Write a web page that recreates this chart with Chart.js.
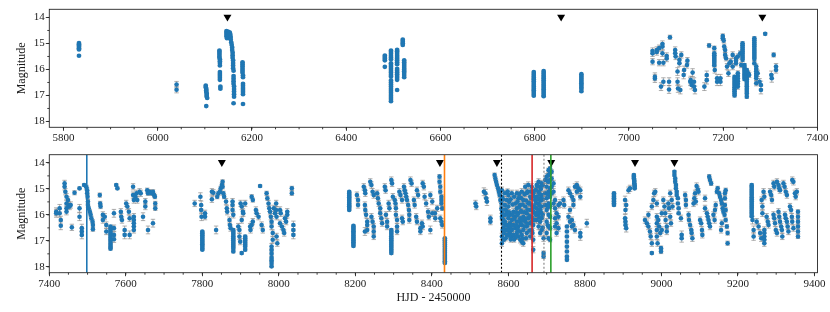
<!DOCTYPE html>
<html>
<head>
<meta charset="utf-8">
<script src="https://cdn.jsdelivr.net/npm/chart.js@4/dist/chart.umd.min.js"></script>
<style>
  html, body { margin: 0; padding: 0; background: #fff; }
  #wrap { position: relative; width: 830px; height: 312px; }
  #wrap canvas { position: absolute; left: 0; top: 0; }
</style>
</head>
<body>
<div id="wrap">
  <canvas id="topChart" width="830" height="312"></canvas>
  <canvas id="bottomChart" width="830" height="312"></canvas>
</div>
<script>
// ---- Light curve: [HJD - 2450000, magnitude, error] ----

const seasonTop1 = [
  [5833,14.98,.03],[5833,15.03,.03],[5833,15.08,.03],[5833,15.13,.03],[5833,15.18,.03],[5833,15.23,.03],[5833,15.47,.03],
  [6040,16.58,.12],[6040,16.78,.12],
  [6102,16.62,.03],[6102,16.68,.03],[6103,16.74,.03],[6103,16.8,.03],[6103,16.86,.03],[6104,16.92,.03],[6104,16.98,.03],[6104,17.04,.03],[6105,17.1,.03],[6103,17.41,.03],
  [6131,15.27,.03],[6131,15.33,.03],[6131,15.4,.03],[6131,15.47,.03],[6131,15.54,.03],[6132,15.61,.03],[6132,15.68,.03],[6132,15.75,.03],[6132,15.85,.03],
  [6132,16.1,.03],[6132,16.17,.03],[6132,16.24,.03],[6132,16.32,.03],[6132,16.4,.03],[6133,16.66,.03],[6133,16.74,.03],
  [6146,14.52,.03],[6146,14.58,.03],[6146,14.65,.03],[6146,14.72,.03],[6147,14.8,.03],[6150,14.55,.03],[6150,14.62,.03],[6151,14.7,.03],[6152,14.78,.03],
  [6153,14.58,.03],[6154,14.65,.03],[6155,14.75,.03],[6155,14.85,.03],[6156,14.95,.03],[6157,15.05,.03],[6158,15.15,.03],[6158,15.25,.03],[6159,15.35,.03],
  [6159,15.45,.03],[6159,15.55,.03],[6160,15.65,.03],[6160,15.75,.03],[6160,15.85,.03],[6160,15.95,.03],[6161,16.05,.03],[6161,16.25,.03],[6161,16.35,.03],
  [6161,16.45,.03],[6161,16.55,.03],[6162,16.65,.03],[6162,16.75,.03],[6162,16.85,.03],[6162,16.95,.03],[6162,17.05,.03],[6161,17.3,.03],
  [6180,15.72,.03],[6180,15.8,.03],[6180,15.88,.03],[6180,15.96,.03],[6180,16.04,.03],[6180,16.12,.03],[6181,16.22,.03],[6181,16.3,.03],
  [6181,16.55,.03],[6181,16.63,.03],[6181,16.71,.03],[6181,16.79,.03],[6181,16.87,.03],[6181,16.95,.03],[6181,17.33,.03]
];

const seasonTop2 = [
  [6482,15.46,.03],[6482,15.52,.03],[6482,15.58,.03],[6482,15.65,.03],[6482,15.9,.03],
  [6495,15.27,.03],[6495,15.33,.03],[6495,15.4,.03],[6495,15.47,.03],[6495,15.54,.03],[6495,15.61,.03],[6495,15.76,.03],[6495,15.83,.03],
  [6495,15.9,.03],[6495,15.97,.03],[6495,16.05,.03],[6495,16.12,.03],[6495,16.2,.03],[6495,16.27,.03],[6495,16.42,.03],[6495,16.5,.03],
  [6495,16.58,.03],[6495,16.66,.03],[6495,16.74,.03],[6495,16.82,.03],[6495,16.9,.03],[6495,16.98,.03],[6495,17.06,.03],[6495,17.14,.03],[6495,17.22,.03],
  [6508,15.24,.03],[6508,15.3,.03],[6508,15.37,.03],[6508,15.44,.03],[6508,15.51,.03],[6508,15.58,.03],[6508,15.65,.03],[6508,15.72,.03],[6508,15.8,.03],
  [6508,15.97,.03],[6508,16.04,.03],[6508,16.11,.03],[6508,16.18,.03],[6508,16.25,.03],[6508,16.32,.03],[6508,16.4,.03],[6508,16.79,.03],
  [6520,14.85,.03],[6520,14.92,.03],[6520,14.99,.03],[6520,15.06,.03],
  [6523,15.65,.03],[6523,15.72,.03],[6523,15.79,.03],[6523,15.86,.03],[6523,15.93,.03],[6523,16.0,.03],[6523,16.07,.03],[6523,16.14,.03],[6523,16.21,.03],[6523,16.3,.03]
];

const seasonTop3 = [
  [6798,16.1,.03],[6798,16.17,.03],[6798,16.24,.03],[6798,16.31,.03],[6798,16.38,.03],[6798,16.45,.03],[6798,16.52,.03],
  [6798,16.59,.03],[6798,16.66,.03],[6798,16.73,.03],[6798,16.8,.03],[6798,16.87,.03],[6798,16.94,.03],[6798,17.01,.03],
  [6819,16.06,.03],[6819,16.13,.03],[6819,16.2,.03],[6819,16.27,.03],[6819,16.34,.03],[6819,16.41,.03],[6819,16.48,.03],
  [6819,16.55,.03],[6819,16.62,.03],[6819,16.69,.03],[6819,16.76,.03],[6819,16.83,.03],[6819,16.9,.03],[6819,16.97,.03],[6819,17.03,.03],
  [6899,16.18,.03],[6899,16.25,.03],[6899,16.32,.03],[6899,16.39,.03],[6899,16.46,.03],[6899,16.53,.03],[6899,16.6,.03],[6899,16.67,.03],[6899,16.74,.03],[6899,16.84,.03]
];

const seasonTop4 = [
  [7050,15.29,.12],[7050,15.38,.12],[7050,15.7,.12],[7055,16.28,.15],[7055,16.35,.15],[7059,15.25,.12],[7059,15.33,.12],
  [7064,15.18,.12],[7064,15.74,.12],[7068,16.66,.15],[7071,15.02,.12],[7071,15.12,.12],[7071,15.38,.12],[7073,15.74,.12],[7073,16.47,.15],
  [7080,15.48,.12],[7080,15.58,.12],[7085,16.47,.15],[7085,16.77,.15],[7087,14.76,.08],
  [7098,15.25,.12],[7098,15.38,.12],[7099,15.5,.12],[7103,16.08,.15],[7103,16.47,.15],[7104,16.73,.15],[7107,15.63,.12],[7107,15.76,.12],
  [7111,15.44,.12],[7109,16.79,.15],[7116,16.21,.15],[7117,16.02,.15],[7123,15.83,.12],[7124,15.66,.12],
  [7130,16.47,.15],[7131,16.41,.15],[7133,16.6,.15],[7135,16.12,.15],[7138,16.47,.15],[7138,16.66,.15],[7140,16.79,.15],
  [7160,16.66,.15],[7165,16.21,.15],[7165,16.41,.15],[7170,15.08,.08],
  [7181,15.18,.08],[7181,15.38,.06],[7181,15.45,.06],[7181,15.52,.06],[7181,15.6,.06],[7181,15.67,.06],[7181,15.75,.06],[7181,15.84,.06],
  [7182,16.02,.12],[7187,16.34,.15],[7187,16.47,.15],[7194,16.34,.15],[7194,16.47,.15],
  [7199,14.71,.08],[7199,14.8,.08],[7201,14.89,.08],[7202,15.12,.1],[7204,15.25,.1],[7204,15.44,.1],[7206,15.57,.1],[7208,15.89,.12],
  [7211,16.15,.12],[7213,15.76,.12],[7216,15.7,.12],[7220,15.44,.12],[7220,15.89,.12],
  [7224,16.28,.06],[7224,16.36,.06],[7224,16.44,.06],[7224,16.52,.06],[7224,16.6,.06],[7224,16.68,.06],[7224,16.76,.06],[7224,16.84,.06],[7224,16.92,.06],[7224,17.0,.06],
  [7227,15.57,.1],[7227,15.66,.1],[7227,15.76,.1],[7231,15.5,.1],
  [7231,16.15,.1],[7231,16.25,.1],[7231,16.35,.1],[7231,16.45,.1],[7231,16.55,.1],[7231,16.66,.1],
  [7236,15.38,.1],[7238,15.83,.1],
  [7241,14.99,.06],[7241,15.07,.06],[7241,15.15,.06],[7241,15.23,.06],[7241,15.31,.06],[7241,15.39,.06],[7241,15.47,.06],[7241,15.55,.06],[7241,15.63,.06],
  [7245,15.83,.06],[7245,15.92,.06],[7245,16.01,.06],[7245,16.1,.06],[7245,16.19,.06],[7245,16.28,.06],[7245,16.37,.06],
  [7250,16.02,.06],[7250,16.11,.06],[7250,16.2,.06],[7250,16.29,.06],[7250,16.38,.06],[7250,16.47,.06],[7250,16.56,.06],[7250,16.65,.06],
  [7250,16.74,.06],[7250,16.83,.06],[7250,16.92,.06],[7250,17.05,.06],[7253,16.15,.1],[7255,16.21,.1],
  [7266,14.8,.06],[7266,14.88,.06],[7266,14.96,.06],[7266,15.04,.06],[7266,15.12,.06],[7266,15.2,.06],[7266,15.28,.06],[7266,15.36,.06],
  [7266,15.44,.06],[7266,15.52,.06],[7266,15.6,.06],[7266,15.76,.06],
  [7270,15.89,.1],[7270,15.98,.1],[7270,16.07,.1],[7270,16.16,.1],[7270,16.25,.1],[7270,16.34,.1],[7270,16.53,.1],
  [7273,16.15,.12],[7277,16.47,.12],[7280,16.79,.15],[7280,16.6,.15],[7289,14.63,.05],
  [7302,16.21,.15],[7303,16.34,.15],[7307,15.44,.08],[7312,15.89,.12],[7312,16.02,.12]
];

const seasonBot1 = [
  [7418,15.88,.15],[7418,15.94,.15],[7427,15.75,.15],[7427,15.94,.15],[7430,16.2,.15],[7430,16.42,.15],
  [7440,14.79,.12],[7440,14.92,.12],[7442,15.11,.12],[7445,15.3,.12],[7445,15.56,.12],[7445,15.75,.12],[7445,15.88,.12],
  [7449,15.43,.12],[7451,15.62,.12],[7453,15.68,.12],[7456,15.62,.12],[7459,16.48,.12],[7466,15.15,.08],
  [7479,14.98,.05],[7479,15.75,.15],[7479,16.07,.15],[7485,16.51,.15],[7485,16.64,.15],[7485,16.77,.15],[7491,14.85,.05],
  [7497,14.94,.08],[7499,15.05,.08],[7499,15.17,.08],[7500,15.3,.08],[7501,15.49,.08],[7501,15.62,.08],[7503,15.75,.08],[7506,15.88,.08],
  [7508,16.0,.08],[7510,16.13,.08],[7513,16.26,.08],[7514,16.39,.08],[7514,16.55,.08],
  [7532,15.24,.08],[7533,15.56,.08],[7534,15.68,.08],[7540,16.0,.12],[7540,16.2,.12],[7545,16.07,.12],[7549,16.39,.12],[7549,16.64,.12],
  [7560,16.45,.05],[7560,16.52,.05],[7560,16.6,.05],[7560,16.68,.05],[7560,16.76,.05],[7560,16.84,.05],[7560,16.92,.05],[7560,17.0,.05],
  [7560,17.08,.05],[7560,17.16,.05],[7560,17.24,.05],[7560,17.3,.05],
  [7569,15.94,.15],[7569,16.51,.12],[7569,16.77,.12],[7569,16.94,.12],[7575,14.85,.05],[7578,14.98,.05],
  [7587,15.88,.12],[7588,16.07,.12],[7590,16.2,.12],[7597,16.58,.15],[7597,16.77,.15],[7601,15.56,.12],[7604,15.68,.12],
  [7608,15.88,.12],[7610,16.13,.12],[7610,16.77,.15],
  [7619,14.92,.12],[7619,15.24,.12],[7621,15.43,.12],[7621,16.07,.12],[7621,16.2,.12],[7621,16.32,.12],[7621,16.45,.12],[7621,16.58,.12],
  [7625,15.3,.12],[7628,15.17,.12],[7630,15.43,.12],[7636,15.11,.12],[7639,15.17,.12],[7645,16.07,.15],[7651,15.49,.12],[7651,15.68,.12],
  [7656,15.05,.08],[7658,15.17,.08],[7658,16.58,.15],[7662,15.11,.08],[7667,15.17,.08],[7671,15.11,.08],[7674,15.24,.08],[7676,15.3,.08],
  [7671,16.32,.15],[7677,15.56,.08],[7677,15.75,.08]
];

const seasonBot2 = [
  [7780,15.56,.12],[7795,15.3,.15],[7797,15.62,.15],[7797,15.81,.15],[7798,16.07,.15],
  [7800,16.64,.03],[7800,16.71,.03],[7800,16.78,.03],[7800,16.85,.03],[7800,16.92,.03],[7800,16.99,.03],[7800,17.06,.03],[7800,17.13,.03],
  [7800,17.2,.03],[7800,17.27,.03],[7800,17.34,.03],
  [7807,15.94,.12],[7807,16.07,.12],[7825,15.11,.12],[7825,15.4,.12],[7829,15.15,.12],[7836,16.58,.15],
  [7839,15.3,.08],[7842,15.17,.08],[7846,15.11,.08],[7848,14.98,.08],[7851,14.85,.08],[7853,14.73,.08],[7853,14.92,.08],[7855,15.17,.08],[7857,15.3,.08],
  [7862,15.49,.12],[7864,15.75,.12],[7865,15.88,.12],[7871,16.2,.12],[7872,16.39,.12],[7874,16.51,.12],
  [7879,15.49,.12],[7879,15.62,.12],[7879,15.81,.12],[7881,16.0,.12],
  [7881,16.58,.05],[7881,16.66,.05],[7881,16.74,.05],[7881,16.82,.05],[7881,16.9,.05],[7881,16.98,.05],[7881,17.06,.05],[7881,17.14,.05],
  [7881,17.22,.05],[7881,17.3,.05],[7881,17.41,.05],
  [7894,16.45,.12],[7897,16.58,.12],[7897,16.83,.12],[7899,17.03,.12],[7900,15.56,.12],[7903,15.68,.12],[7906,15.88,.12],[7903,16.2,.12],
  [7912,16.83,.05],[7912,16.9,.05],[7912,16.98,.05],[7912,17.06,.05],[7912,17.14,.05],[7912,17.22,.05],[7912,17.34,.05],[7903,17.47,.05],
  [7912,15.56,.12],[7907,15.94,.12],[7925,16.45,.12],[7926,16.58,.12],[7929,16.39,.12],[7932,16.26,.12],[7929,15.3,.08],[7932,15.43,.08],
  [7940,15.81,.12],[7942,15.94,.12],[7947,16.07,.12],[7951,14.89,.05],[7955,16.39,.12],[7958,16.58,.12],[7968,15.17,.08],[7970,15.36,.08],
  [7973,15.56,.12],[7975,15.75,.12],[7977,15.88,.12],[7979,16.07,.12],[7981,16.26,.12],[7981,16.45,.12],[7984,16.7,.12],[7984,16.96,.12],
  [7981,17.22,.12],[7981,17.35,.05],[7981,17.5,.05],[7981,17.65,.05],[7981,17.75,.05],[7981,17.85,.05],[7981,17.98,.05],
  [7987,15.75,.12],[7990,15.94,.12],[7993,15.56,.12],[7993,15.81,.12],[7994,16.07,.12],[7994,16.83,.12],[7996,17.09,.12],
  [8003,16.32,.12],[8008,16.45,.12],[8012,16.58,.12],[8014,16.7,.12],[8003,15.81,.12],[8005,15.94,.12],
  [8016,16.13,.12],[8019,16.26,.12],[8022,15.88,.12],[8022,16.0,.12],[8034,14.98,.08],[8034,15.17,.08],
  [8038,16.39,.15],[8038,16.58,.15],[8038,16.77,.15]
];

const seasonBot3 = [
  [8184,15.11,.03],[8184,15.18,.03],[8184,15.25,.03],[8184,15.32,.03],[8184,15.39,.03],[8184,15.46,.03],[8184,15.53,.03],[8184,15.6,.03],
  [8184,15.67,.03],[8184,15.74,.03],[8184,15.81,.03],
  [8195,16.42,.03],[8195,16.49,.03],[8195,16.56,.03],[8195,16.63,.03],[8195,16.7,.03],[8195,16.77,.03],[8195,16.84,.03],[8195,16.91,.03],
  [8195,16.98,.03],[8195,17.05,.03],[8195,17.12,.03],[8195,17.2,.03],
  [8204,15.24,.12],[8207,15.43,.12],[8207,15.62,.12],[8222,14.92,.12],[8225,15.05,.12],[8226,15.17,.12],
  [8225,15.62,.12],[8226,15.81,.12],[8228,16.0,.12],[8231,16.26,.12],[8231,16.39,.12],[8231,16.58,.12],[8225,16.64,.15],
  [8239,14.73,.12],[8242,14.85,.12],[8245,15.11,.12],[8248,15.24,.12],
  [8242,16.07,.12],[8245,16.26,.12],[8248,16.45,.12],[8248,16.64,.12],[8248,16.83,.12],
  [8257,15.17,.12],[8259,15.36,.12],[8261,15.56,.12],[8265,15.75,.12],[8265,15.94,.12],[8268,16.13,.12],[8270,16.32,.12],
  [8277,14.92,.12],[8279,15.05,.12],[8280,16.0,.12],[8283,16.26,.12],[8283,16.45,.12],[8287,15.56,.12],[8289,15.75,.12],
  [8294,14.66,.12],[8296,14.79,.12],[8298,15.3,.12],[8303,15.43,.12],[8305,15.56,.12],[8306,15.75,.12],[8306,16.0,.12],
  [8309,16.2,.12],[8309,16.45,.12],[8309,16.64,.12],
  [8294,16.58,.05],[8294,16.66,.05],[8294,16.74,.05],[8294,16.82,.05],[8294,16.9,.05],[8294,16.98,.05],[8294,17.06,.05],[8294,17.14,.05],
  [8294,17.22,.05],[8294,17.3,.05],[8294,17.38,.05],[8294,17.47,.05],
  [8315,15.11,.12],[8318,15.24,.12],[8322,15.43,.12],[8322,16.13,.12],[8324,16.26,.12],
  [8327,14.92,.12],[8329,15.05,.12],[8331,15.17,.12],[8333,15.3,.12],[8335,15.43,.12],[8338,15.62,.12],[8340,15.81,.12],[8341,16.0,.12],[8341,16.2,.12],
  [8344,14.66,.12],[8347,14.79,.12],[8353,15.43,.12],[8355,15.62,.12],[8359,16.07,.12],[8361,16.26,.12],[8361,15.05,.12],[8364,15.24,.12],
  [8370,16.51,.12],[8370,16.64,.12],[8374,16.32,.12],[8376,16.45,.12],[8376,14.79,.12],[8379,14.92,.12],
  [8381,15.3,.12],[8385,15.56,.12],[8390,15.88,.12],[8392,16.07,.12],[8396,15.24,.12],[8396,16.58,.15],
  [8401,15.49,.12],[8401,15.94,.12],[8408,15.94,.12],[8409,16.13,.12],[8414,15.75,.12],
  [8420,14.53,.08],[8420,14.73,.08],[8422,14.92,.08],[8422,15.11,.08],[8425,15.3,.08],[8425,15.43,.08],[8425,15.56,.08],[8427,15.75,.08],
  [8422,16.13,.12],[8425,16.26,.12],[8427,16.39,.12],
  [8434,16.9,.03],[8434,16.98,.03],[8434,17.06,.03],[8434,17.14,.03],[8434,17.22,.03],[8434,17.3,.03],[8434,17.38,.03],[8434,17.46,.03],
  [8434,17.54,.03],[8434,17.62,.03],[8434,17.7,.03],[8434,17.78,.03],[8434,17.85,.03]
];

const seasonBot4 = [
  [8514,15.56,.12],[8516,15.68,.12],[8536,15.11,.15],[8540,15.17,.15],[8542,15.36,.15],[8544,15.49,.15],[8553,16.13,.12],[8553,16.26,.12],
  [8564,14.47,.08],[8566,14.6,.08],[8568,14.73,.08],[8570,14.85,.08],[8573,14.98,.08],[8575,15.11,.08],[8577,15.24,.08],[8579,15.43,.08],
  [8582,15.56,.08],[8582,15.75,.08],[8584,15.94,.08],[8584,16.13,.08],[8585,16.32,.08],[8585,16.58,.08],[8588,16.7,.08],[8588,16.96,.08],
  [8583,15.05,.12],[8583,15.3,.12],[8583,15.81,.12],[8583,16.07,.12],[8583,16.83,.12],[8583,17.09,.12],
  [8591,15.17,.12],[8591,15.62,.12],[8591,16.0,.12],[8591,16.26,.12],[8591,16.58,.12],
  [8596,15.43,.12],[8596,15.88,.12],[8596,16.39,.12],[8596,16.77,.12],
  [8600,15.24,.12],[8600,15.68,.12],[8600,16.13,.12],[8600,16.51,.12],
  [8604,16.0,.12],[8604,16.32,.12],[8604,16.7,.12],
  [8609,15.17,.12],[8609,16.2,.12],[8609,16.58,.12],[8609,16.83,.12],
  [8613,15.88,.12],[8613,16.39,.12],[8613,16.77,.12],
  [8618,15.56,.12],[8618,16.07,.12],[8618,16.51,.12],
  [8622,15.17,.12],[8622,15.75,.12],[8622,16.26,.12],[8622,16.7,.12],
  [8626,15.36,.12],[8626,15.94,.12],[8626,16.45,.12],[8626,16.83,.12],
  [8631,15.62,.12],[8631,16.13,.12],[8631,16.64,.12],[8631,16.96,.12],
  [8635,15.11,.12],[8635,15.88,.12],[8635,16.39,.12],[8635,16.77,.12],[8635,17.03,.12],
  [8639,15.43,.12],[8639,16.07,.12],[8639,16.58,.12],[8639,17.09,.12],
  [8644,14.92,.12],[8644,15.68,.12],[8644,16.26,.12],
  [8648,15.17,.12],[8648,15.94,.12],[8648,16.45,.12],[8648,16.7,.12],
  [8652,14.85,.12],[8652,15.56,.12],[8652,16.13,.12],
  [8657,15.3,.12],[8657,15.81,.12],[8657,16.32,.12],[8657,16.83,.12],
  [8661,14.92,.12],[8661,15.62,.12],[8661,16.07,.12],[8661,16.58,.12],
  [8665,15.17,.12],[8665,15.88,.12],[8665,16.39,.12],[8665,16.96,.12],[8665,17.34,.12],
  [8670,15.05,.12],[8670,15.43,.12],[8670,15.94,.12],
  [8674,14.85,.12],[8674,15.3,.12],[8674,15.75,.12],[8674,16.2,.12],
  [8679,14.73,.12],[8679,15.11,.12],[8679,15.56,.12],[8679,16.0,.12],[8679,16.45,.12],
  [8683,14.92,.12],[8683,15.36,.12],[8683,15.81,.12],[8683,16.26,.12],[8683,16.7,.12],
  [8687,14.79,.12],[8687,15.24,.12],[8687,15.68,.12],[8687,16.13,.12],[8687,16.58,.12],
  [8692,16.9,.12],[8692,17.47,.08],[8692,17.6,.08],
  [8696,14.66,.12],[8696,15.17,.12],[8696,15.62,.12],
  [8700,14.53,.12],[8700,14.92,.12],[8700,15.36,.12],[8700,15.81,.12],[8700,16.26,.12],[8700,16.7,.12],
  [8705,14.28,.08],[8705,14.47,.08],[8705,14.73,.08],[8705,15.11,.08],[8705,15.56,.08],[8705,16.0,.08],[8705,16.45,.08],[8705,16.9,.08],
  [8709,14.22,.08],[8709,14.41,.08],[8709,14.66,.08],[8709,14.98,.08],[8709,15.3,.08],[8709,15.68,.08],[8709,16.07,.08],[8709,16.51,.08],[8709,16.96,.08],
  [8713,14.34,.08],[8713,14.6,.08],[8713,14.92,.08],[8713,15.17,.08],
  [8718,14.79,.12],[8718,15.11,.12],[8718,15.56,.12],
  [8722,15.43,.12],[8722,15.75,.12],[8722,16.13,.12],[8722,16.45,.12],
  [8726,15.94,.12],[8726,16.32,.12],[8726,16.7,.12],
  [8731,15.62,.12],[8731,16.07,.12],[8731,16.51,.12],[8735,15.56,.15],[8744,15.43,.12],[8746,15.62,.12],
  [8753,16.45,.05],[8753,16.64,.05],[8753,16.83,.05],[8753,17.03,.05],[8753,17.22,.05],[8753,17.41,.05],[8753,17.6,.05],[8753,17.73,.05],
  [8757,15.05,.12],[8757,16.07,.12],[8761,15.17,.12],[8761,15.81,.12],[8761,16.26,.12],[8766,15.3,.12],[8766,16.2,.12],[8766,16.45,.12],
  [8770,15.43,.12],[8770,15.62,.12],[8770,16.39,.12],[8774,14.92,.12],[8774,16.58,.12],[8779,14.85,.12],[8779,15.11,.12],[8783,14.98,.12],
  [8788,15.05,.12],[8788,15.3,.12],[8788,16.7,.15],[8788,16.83,.15],[8805,16.32,.15]
];

// the densely sampled stretch 8585-8705, between the points above
const seasonBot4Dense = [
  [8587,15.4,.1],[8587,16.2,.1],[8587,16.5,.1],[8593,15.8,.1],[8593,16.4,.1],[8593,16.9,.1],
  [8598,15.1,.1],[8598,16.0,.1],[8598,16.6,.1],[8602,15.5,.1],[8602,15.9,.1],[8602,16.8,.1],
  [8606,15.4,.1],[8606,16.45,.1],[8606,16.95,.1],[8611,15.6,.1],[8611,16.0,.1],[8611,16.4,.1],
  [8615,15.3,.1],[8615,16.15,.1],[8615,16.95,.1],[8620,15.9,.1],[8620,16.4,.1],[8620,16.85,.1],
  [8624,15.5,.1],[8624,16.0,.1],[8624,16.55,.1],[8628,15.2,.1],[8628,15.7,.1],[8628,16.25,.1],
  [8633,15.35,.1],[8633,15.85,.1],[8633,16.35,.1],[8637,15.6,.1],[8637,16.2,.1],[8637,16.9,.1],
  [8642,15.2,.1],[8642,15.9,.1],[8642,16.45,.1],[8646,15.45,.1],[8646,16.15,.1],[8646,16.9,.1],
  [8650,15.1,.1],[8650,15.8,.1],[8650,16.35,.1],[8655,15.55,.1],[8655,16.05,.1],[8655,16.6,.1],
  [8659,15.1,.1],[8659,15.35,.1],[8659,16.3,.1],[8663,15.75,.1],[8663,16.2,.1],[8663,16.7,.1],
  [8668,15.3,.1],[8668,15.7,.1],[8668,16.2,.1],[8672,15.05,.1],[8672,15.55,.1],[8672,16.0,.1],
  [8676,14.9,.1],[8676,15.4,.1],[8676,15.9,.1],[8681,15.2,.1],[8681,15.65,.1],[8681,16.1,.1],
  [8685,15.0,.1],[8685,15.45,.1],[8685,15.9,.1],[8690,14.85,.1],[8690,15.4,.1],[8690,16.0,.1],[8690,16.5,.1],
  [8703,14.7,.1],[8703,15.2,.1],[8703,15.7,.1],[8703,16.4,.1]
];

const seasonBot5 = [
  [8876,15.17,.05],[8876,15.24,.05],[8876,15.3,.05],[8876,15.36,.05],[8876,15.43,.05],[8876,15.49,.05],[8876,15.56,.05],[8876,15.62,.05],
  [8905,15.43,.15],[8908,15.62,.15],[8906,15.81,.15],[8905,16.13,.15],[8906,16.26,.15],[8906,16.39,.15],[8908,16.51,.15],
  [8914,15.05,.12],[8918,14.98,.12],
  [8928,14.47,.05],[8928,14.53,.05],[8928,14.6,.05],[8929,14.66,.05],[8929,14.73,.05],[8929,14.79,.05],[8930,14.85,.05],[8930,14.92,.05],[8930,14.98,.05],
  [8957,16.2,.12],[8962,16.32,.12],[8966,16.45,.12],[8970,16.64,.12],[8972,16.83,.12],[8975,17.09,.12],[8975,17.47,.05],
  [8966,16.0,.12],[8975,15.68,.12],[8979,15.43,.12],[8981,15.17,.12],[8984,15.11,.12],
  [8988,15.56,.12],[8988,16.07,.12],[8988,16.32,.12],[8988,16.58,.12],[8988,16.83,.12],[8990,17.09,.12],[8992,16.2,.12],[8994,16.45,.12],
  [8997,16.7,.12],[8999,17.28,.08],[8999,17.41,.08],[9001,15.94,.12],[9001,16.58,.12],
  [9005,15.43,.12],[9008,15.68,.12],[9010,15.94,.12],[9011,16.2,.12],[9014,16.45,.12],[9014,16.64,.12],[9018,15.56,.12],[9020,15.75,.12],
  [9023,15.17,.12],[9023,16.07,.12],[9025,16.32,.12],[9027,15.43,.12],[9029,15.68,.12],
  [9034,14.34,.05],[9034,14.47,.05],[9036,14.6,.05],[9036,14.73,.05],[9038,14.85,.05],[9038,14.98,.05],[9040,15.11,.05],[9040,15.24,.05],
  [9043,15.36,.05],[9043,15.56,.05],[9045,15.75,.05],[9045,15.94,.05],
  [9051,16.13,.12],[9053,16.77,.15],[9053,16.9,.15],[9062,15.24,.12],[9064,15.43,.12],[9064,15.62,.12],
  [9071,16.0,.12],[9072,16.2,.12],[9075,16.39,.12],[9078,16.58,.12],[9079,16.7,.12],[9081,16.9,.12],
  [9084,15.56,.12],[9086,15.36,.12],[9088,15.17,.12],[9090,15.49,.12],[9092,14.89,.12],[9095,15.02,.12],[9097,15.11,.12],
  [9101,16.2,.12],[9104,16.32,.12],[9106,16.58,.12],[9107,16.77,.12],
  [9114,15.36,.12],[9114,15.75,.12],[9119,15.94,.12],[9121,16.07,.12],[9123,16.2,.12],[9125,16.32,.12],[9127,16.45,.12],
  [9125,14.53,.08],[9127,14.66,.08],[9130,14.79,.08],[9136,16.0,.12],[9139,16.2,.12],[9140,15.81,.12],[9142,15.62,.12],
  [9145,15.11,.08],[9147,14.98,.08],[9151,15.17,.08],[9153,15.3,.08],[9156,15.43,.08],[9158,15.56,.08],[9160,15.75,.08],[9162,15.88,.08],[9165,16.0,.08],
  [9156,16.58,.12],[9158,16.32,.12],[9166,15.17,.08],[9168,15.05,.08],[9166,15.36,.08],[9166,15.62,.08],[9168,15.81,.08],
  [9168,16.2,.08],[9171,16.45,.08],[9173,16.7,.08],[9173,17.09,.08]
];

const seasonBot6 = [
  [9236,14.85,.05],[9236,14.92,.05],[9236,15.0,.05],[9236,15.08,.05],[9236,15.16,.05],[9236,15.24,.05],[9236,15.32,.05],[9236,15.4,.05],
  [9236,15.48,.05],[9236,15.56,.05],[9236,15.64,.05],[9236,15.72,.05],[9236,15.8,.05],[9236,15.88,.05],[9236,15.96,.05],[9236,16.05,.05],
  [9238,16.2,.15],[9241,16.58,.15],[9241,16.83,.15],
  [9249,16.26,.12],[9254,16.45,.12],[9258,16.7,.12],[9261,16.9,.12],[9262,15.43,.12],[9264,15.68,.12],[9264,15.94,.12],[9267,15.11,.12],[9269,15.3,.12],
  [9269,16.58,.12],[9269,16.7,.12],[9269,16.83,.12],[9269,16.96,.12],[9269,17.09,.12],
  [9275,16.07,.12],[9278,16.26,.12],[9280,16.39,.12],[9284,15.11,.12],[9287,15.24,.12],[9289,15.43,.12],[9293,14.79,.12],[9295,14.92,.12],
  [9293,16.0,.12],[9295,16.13,.12],[9297,16.32,.12],[9299,16.58,.12],[9302,16.7,.12],
  [9302,14.73,.12],[9306,14.85,.12],[9308,14.98,.12],[9310,15.05,.12],
  [9306,15.88,.12],[9308,16.07,.12],[9310,16.26,.12],[9313,16.45,.12],[9315,16.58,.12],[9316,16.83,.12],
  [9319,14.79,.12],[9322,14.92,.12],[9325,15.11,.12],[9328,15.24,.12],
  [9323,16.0,.12],[9325,16.13,.12],[9328,16.26,.12],[9330,16.45,.12],[9332,16.64,.12],
  [9342,14.66,.12],[9345,14.73,.12],[9336,15.68,.12],[9339,15.81,.12],[9341,16.07,.12],[9342,16.26,.12],[9345,16.51,.12],
  [9349,15.17,.12],[9351,15.3,.12],[9354,15.11,.12],
  [9357,15.88,.08],[9357,16.07,.08],[9357,16.26,.08],[9357,16.45,.08],[9357,16.64,.08],[9357,16.83,.08]
];

// markers and axes
const topArrows = [6148, 6856, 7283];
const bottomArrows = [7851, 8421, 8570, 8712, 8931, 9034];
const arrowMag = 13.98;
const eventLines = [7498, 8433, 8582, 8662, 8693, 8711];
const topXTicks = [5800, 6000, 6200, 6400, 6600, 6800, 7000, 7200, 7400];
const bottomXTicks = [7400, 7600, 7800, 8000, 8200, 8400, 8600, 8800, 9000, 9200, 9400];
const magTicks = [14, 15, 16, 17, 18];

// ---- drawing ----
const BLUE = "#1f77b4";
const FONT = "'Liberation Serif', 'Times New Roman', serif";
const MAG_MIN = 13.685, MAG_MAX = 18.225;
const lineStyles = [
  { color: "#1f77b4", width: 1.6, dash: [] },
  { color: "#ff7f0e", width: 1.6, dash: [] },
  { color: "#000000", width: 1.1, dash: [2, 2] },
  { color: "#d62728", width: 1.6, dash: [] },
  { color: "#808080", width: 1.1, dash: [2, 2] },
  { color: "#2ca02c", width: 1.6, dash: [] },
];

function makeErrorBars(rows) {
  return {
    id: "errorBars",
    beforeDatasetsDraw(chart) {
      const { ctx, scales: { x, y } } = chart;
      ctx.save();
      ctx.strokeStyle = "rgba(130,130,130,0.8)";
      ctx.lineWidth = 0.8;
      ctx.beginPath();
      rows.forEach(([hjd, mag, err]) => {
        const px = x.getPixelForValue(hjd);
        const y0 = y.getPixelForValue(mag - err), y1 = y.getPixelForValue(mag + err);
        ctx.moveTo(px, y0); ctx.lineTo(px, y1);
        ctx.moveTo(px - 2.2, y0); ctx.lineTo(px + 2.2, y0);
        ctx.moveTo(px - 2.2, y1); ctx.lineTo(px + 2.2, y1);
      });
      ctx.stroke();
      ctx.restore();
    }
  };
}

// box round the axes + minor ticks
const frame = {
  id: "frame",
  afterDraw(chart) {
    const { ctx, chartArea: a, scales: { x, y } } = chart;
    ctx.save();
    ctx.strokeStyle = "#262626";
    ctx.lineWidth = 0.9;
    ctx.strokeRect(a.left, a.top, a.right - a.left, a.bottom - a.top);
    ctx.beginPath();
    for (let v = Math.ceil(x.min / 50) * 50; v <= x.max; v += 50) {
      const px = x.getPixelForValue(v);
      ctx.moveTo(px, a.bottom); ctx.lineTo(px, a.bottom + 2);
    }
    for (let v = 14; v <= 18; v += 0.5) {
      const py = y.getPixelForValue(v);
      ctx.moveTo(a.left, py); ctx.lineTo(a.left - 2, py);
    }
    ctx.stroke();
    ctx.restore();
  }
};

function buildPanel(canvasId, seasons, arrows, lines, xMin, xMax, xTicks, top, bottom, xTitle) {
  const rows = [].concat(...seasons);
  const datasets = [];
  lines.forEach((hjd, i) => {
    const st = lineStyles[i];
    datasets.push({
      type: "line",
      data: [{ x: hjd, y: MAG_MIN }, { x: hjd, y: MAG_MAX }],
      borderColor: st.color, borderWidth: st.width, borderDash: st.dash,
      pointRadius: 0, fill: false, order: 0,
    });
  });
  datasets.push({
    type: "scatter",
    data: arrows.map(v => ({ x: v, y: arrowMag })),
    pointStyle: "triangle", rotation: 180, pointRadius: 4.6,
    backgroundColor: "#000", borderWidth: 0, order: 1,
  });
  datasets.push({
    type: "scatter",
    data: rows.map(([x, y]) => ({ x, y })),
    pointRadius: 2.3, backgroundColor: BLUE, borderWidth: 0, order: 2,
  });

  return new Chart(document.getElementById(canvasId), {
    type: "scatter",
    data: { datasets },
    options: {
      responsive: false,
      animation: false,
      devicePixelRatio: 1,
      events: [],
      layout: { padding: { left: 0, right: 830 - 817.5, top: top, bottom: 0 } },
      plugins: { legend: { display: false }, tooltip: { enabled: false } },
      scales: {
        x: {
          type: "linear", min: xMin, max: xMax,
          afterBuildTicks: s => { s.ticks = xTicks.map(v => ({ value: v })); },
          afterFit: s => { s.height = 312 - bottom; s.paddingLeft = 0; s.paddingRight = 0; },
          ticks: { autoSkip: false, maxRotation: 0, padding: 1, color: "#1a1a1a", font: { family: FONT, size: 11 }, callback: v => String(v) },
          grid: { drawOnChartArea: false, tickLength: 3.5, tickColor: "#262626", tickWidth: 0.9 },
          border: { display: false },
          title: { display: !!xTitle, text: xTitle || "", color: "#1a1a1a", font: { family: FONT, size: 12 }, padding: { top: 0, bottom: 7 } },
        },
        y: {
          type: "linear", reverse: true, min: MAG_MIN, max: MAG_MAX,
          afterBuildTicks: s => { s.ticks = magTicks.map(v => ({ value: v })); },
          afterFit: s => { s.width = 49.3; s.paddingTop = 0; s.paddingBottom = 0; },
          ticks: { padding: 1, color: "#1a1a1a", font: { family: FONT, size: 11 }, callback: v => String(v) },
          grid: { drawOnChartArea: false, tickLength: 3.5, tickColor: "#262626", tickWidth: 0.9 },
          border: { display: false },
          title: { display: true, text: "Magnitude", color: "#1a1a1a", font: { family: FONT, size: 12 }, padding: { top: 15, bottom: 0 } },
        },
      },
    },
    plugins: [makeErrorBars(rows), frame],
  });
}

buildPanel("topChart", [seasonTop1, seasonTop2, seasonTop3, seasonTop4], topArrows, [],
  5770, 7400, topXTicks, 9.3, 127.3, null);
buildPanel("bottomChart", [seasonBot1, seasonBot2, seasonBot3, seasonBot4, seasonBot4Dense, seasonBot5, seasonBot6], bottomArrows, eventLines,
  7400, 9408, bottomXTicks, 154.7, 272.7, "HJD - 2450000");
</script>
</body>
</html>
